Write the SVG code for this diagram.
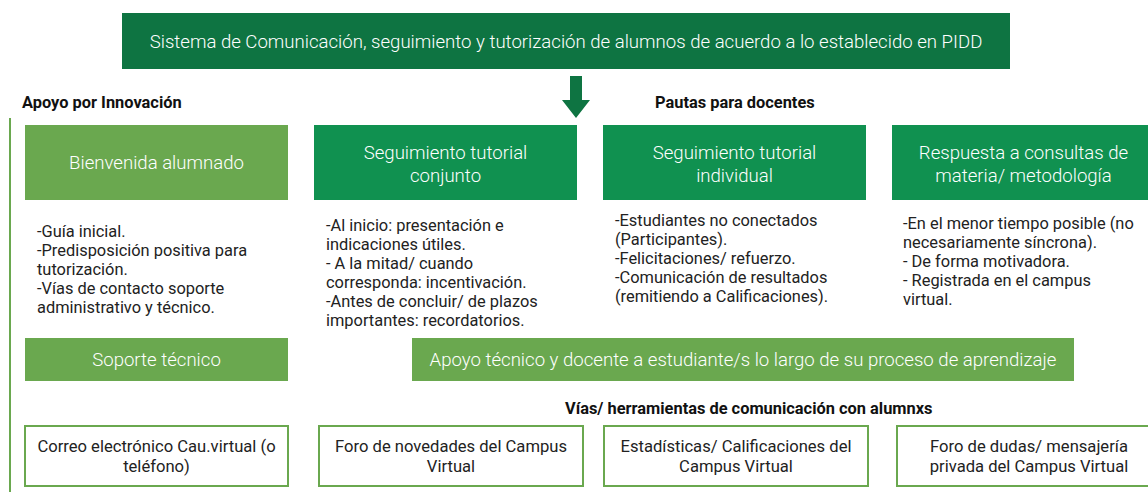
<svg xmlns="http://www.w3.org/2000/svg" width="1148" height="492" viewBox="0 0 1148 492">
<style>
.t{font-family:Roboto,"Liberation Sans",sans-serif;}
.title{font-size:18.6px;fill:#ffffff;text-anchor:middle;font-weight:300;}
.body{font-size:16.4px;fill:#222222;}
.hd{font-size:16.4px;fill:#111111;font-weight:bold;}
.tool{font-size:16.6px;fill:#222222;text-anchor:middle;}
.light{fill:#6aa84f;}
.mid{fill:#109150;}
.wbox{fill:#ffffff;stroke:#6aa84f;stroke-width:2;}
</style>
<rect width="1148" height="492" fill="#ffffff"/>
<g id="top">
<rect x="122" y="13" width="888" height="56" fill="#0e7442"/>
<text class="t title" x="566" y="48">Sistema de Comunicación, seguimiento y tutorización de alumnos de acuerdo a lo establecido en PIDD</text>
</g>
<g id="connectors">
<polygon points="570,76 582,76 582,100 590,100 576,118 562,100 570,100" fill="#0e7442"/>
<line x1="10" y1="118" x2="10" y2="492" stroke="#6aa84f" stroke-width="2"/>
</g>
<g id="labels">
<text class="t hd" x="22" y="108">Apoyo por Innovación</text>
<text class="t hd" x="655" y="108">Pautas para docentes</text>
<text class="t hd" x="565" y="414">Vías/ herramientas de comunicación con alumnxs</text>
</g>
<g id="bienvenida">
<rect class="light" x="25" y="125" width="263" height="75"/>
<text class="t title" x="156.5" y="169">Bienvenida alumnado</text>
<text class="t body"><tspan x="37" y="237">-Guía inicial.</tspan><tspan x="37" y="256">-Predisposición positiva para</tspan><tspan x="37" y="275">tutorización.</tspan><tspan x="37" y="294">-Vías de contacto soporte</tspan><tspan x="37" y="313">administrativo  y técnico.</tspan></text>
</g>
<g id="conjunto">
<rect class="mid" x="314" y="125" width="263" height="75"/>
<text class="t title" x="445.5" y="159">Seguimiento tutorial</text>
<text class="t title" x="445.5" y="182">conjunto</text>
<text class="t body"><tspan x="326" y="231">-Al inicio: presentación e</tspan><tspan x="326" y="250">indicaciones útiles.</tspan><tspan x="326" y="269">- A la mitad/ cuando</tspan><tspan x="326" y="288">corresponda: incentivación.</tspan><tspan x="326" y="307">-Antes de concluir/ de plazos</tspan><tspan x="326" y="326">importantes: recordatorios.</tspan></text>
</g>
<g id="individual">
<rect class="mid" x="603" y="125" width="263" height="75"/>
<text class="t title" x="734.5" y="159">Seguimiento tutorial</text>
<text class="t title" x="734.5" y="182">individual</text>
<text class="t body"><tspan x="615" y="226">-Estudiantes no conectados</tspan><tspan x="615" y="245">(Participantes).</tspan><tspan x="615" y="264">-Felicitaciones/ refuerzo.</tspan><tspan x="615" y="283">-Comunicación de resultados</tspan><tspan x="615" y="302">(remitiendo a Calificaciones).</tspan></text>
</g>
<g id="respuesta">
<rect class="mid" x="892" y="125" width="263" height="75"/>
<text class="t title" x="1023.5" y="159">Respuesta a consultas de</text>
<text class="t title" x="1023.5" y="182">materia/ metodología</text>
<text class="t body"><tspan x="903" y="229">-En el menor tiempo posible (no</tspan><tspan x="903" y="248">necesariamente síncrona).</tspan><tspan x="903" y="267">- De forma motivadora.</tspan><tspan x="903" y="286">- Registrada en el campus</tspan><tspan x="903" y="305">virtual.</tspan></text>
</g>
<g id="soporte">
<rect class="light" x="25" y="338" width="263" height="43"/>
<text class="t title" x="156.5" y="366">Soporte técnico</text>
</g>
<g id="apoyo">
<rect class="light" x="412" y="338" width="662" height="43"/>
<text class="t title" x="743" y="366">Apoyo técnico y docente a estudiante/s lo largo de su proceso de aprendizaje</text>
</g>
<g id="correo">
<rect class="wbox" x="25" y="426" width="263" height="60"/>
<text class="t tool" x="156.5" y="452">Correo electrónico Cau.virtual (o</text>
<text class="t tool" x="156.5" y="472">teléfono)</text>
</g>
<g id="foro-novedades">
<rect class="wbox" x="319" y="426" width="264" height="60"/>
<text class="t tool" x="451" y="452">Foro de novedades del Campus</text>
<text class="t tool" x="451" y="472">Virtual</text>
</g>
<g id="estadisticas">
<rect class="wbox" x="604" y="426" width="264" height="60"/>
<text class="t tool" x="736" y="452">Estadísticas/ Calificaciones del</text>
<text class="t tool" x="736" y="472">Campus Virtual</text>
</g>
<g id="foro-dudas">
<rect class="wbox" x="897" y="426" width="264" height="60"/>
<text class="t tool" x="1029" y="452">Foro de dudas/ mensajería</text>
<text class="t tool" x="1029" y="472">privada del Campus Virtual</text>
</g>
</svg>
